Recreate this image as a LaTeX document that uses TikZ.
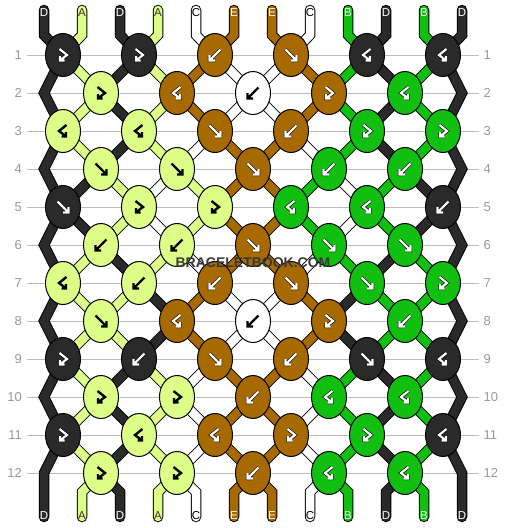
\documentclass[tikz,border=0pt]{standalone}
\usepackage{fontspec}
\setmainfont{Liberation Sans}
\usetikzlibrary{shapes.geometric}
\pgfdeclarelayer{bg}
\pgfsetlayers{bg,main}
\definecolor{colD}{HTML}{2A2A2A}
\definecolor{colA}{HTML}{DDFF88}
\definecolor{colB}{HTML}{11BF11}
\definecolor{colC}{HTML}{FFFFFF}
\definecolor{colE}{HTML}{A66A00}
\definecolor{rowgray}{HTML}{BBBBBB}
\definecolor{numgray}{HTML}{999999}
\definecolor{labdark}{HTML}{333333}
\tikzset{
    knot/.style = {ellipse, draw=black, line width=1pt, inner sep=0pt, minimum width=35pt, minimum height=43pt},
    knotD/.style = {knot, fill=colD},
    knotA/.style = {knot, fill=colA},
    knotB/.style = {knot, fill=colB},
    knotC/.style = {knot, fill=colC},
    knotE/.style = {knot, fill=colE},
    strand/.style = {draw=black, line width=1pt, double=#1, double distance=8.5pt, line cap=round, line join=miter},
    rowline/.style = {rowgray, line width=1pt},
    rownum/.style = {text=numgray, inner sep=0pt, font=\fontsize{13}{13}\selectfont},
    tag/.style = {inner sep=0pt, font=\fontsize{11.5}{11.5}\selectfont},
    watermark/.style = {inner sep=0pt, text=black!78, font=\bfseries\fontsize{14}{14}\selectfont},
    glyphw/.style = {draw=black, line width=0.6pt, double=white, double distance=2.2pt, line join=miter},
    glyphk/.style = {draw=black, line width=2.4pt, line join=miter},
    fw/.pic = {\draw[glyph#1] (-5.5,-5.5) -- (5,5) (5.5,0) -- (5.5,5.5) -- (0,5.5);},
    bw/.pic = {\draw[glyph#1] (5.5,-5.5) -- (-5,5) (-5.5,0) -- (-5.5,5.5) -- (0,5.5);},
    fb/.pic = {\draw[glyph#1] (-3.5,-6) -- (4,0) -- (-2.5,5) (-3,1) -- (-3,5.5) -- (1.5,5.5);},
    bf/.pic = {\draw[glyph#1] (3.5,-6) -- (-4,0) -- (2.5,5) (3,1) -- (3,5.5) -- (-1.5,5.5);}
}
\begin{document}
\begin{tikzpicture}[x=1pt,y=-1pt]
\useasboundingbox (0,0) rectangle (506,528);
%
% row 1
\node[knotD] at (63,55) (k1-1) {};  \pic at (k1-1) {fb=w};
\node[knotD] at (139,55) (k1-2) {}; \pic at (k1-2) {fb=w};
\node[knotE] at (215,55) (k1-3) {}; \pic at (k1-3) {bw=w};
\node[knotE] at (291,55) (k1-4) {}; \pic at (k1-4) {fw=w};
\node[knotD] at (367,55) (k1-5) {}; \pic at (k1-5) {bf=w};
\node[knotD] at (443,55) (k1-6) {}; \pic at (k1-6) {bf=w};
% row 2
\node[knotA] at (101,93) (k2-1) {}; \pic at (k2-1) {fb=k};
\node[knotE] at (177,93) (k2-2) {}; \pic at (k2-2) {bf=w};
\node[knotC] at (253,93) (k2-3) {}; \pic at (k2-3) {bw=k};
\node[knotE] at (329,93) (k2-4) {}; \pic at (k2-4) {fb=w};
\node[knotB] at (405,93) (k2-5) {}; \pic at (k2-5) {bf=w};
% row 3
\node[knotA] at (63,131) (k3-1) {};  \pic at (k3-1) {bf=k};
\node[knotA] at (139,131) (k3-2) {}; \pic at (k3-2) {bf=k};
\node[knotE] at (215,131) (k3-3) {}; \pic at (k3-3) {fw=w};
\node[knotE] at (291,131) (k3-4) {}; \pic at (k3-4) {bw=w};
\node[knotB] at (367,131) (k3-5) {}; \pic at (k3-5) {fb=w};
\node[knotB] at (443,131) (k3-6) {}; \pic at (k3-6) {fb=w};
% row 4
\node[knotA] at (101,169) (k4-1) {}; \pic at (k4-1) {fw=k};
\node[knotA] at (177,169) (k4-2) {}; \pic at (k4-2) {fw=k};
\node[knotE] at (253,169) (k4-3) {}; \pic at (k4-3) {fw=w};
\node[knotB] at (329,169) (k4-4) {}; \pic at (k4-4) {bw=w};
\node[knotB] at (405,169) (k4-5) {}; \pic at (k4-5) {bw=w};
% row 5
\node[knotD] at (63,207) (k5-1) {};  \pic at (k5-1) {fw=w};
\node[knotA] at (139,207) (k5-2) {}; \pic at (k5-2) {fb=k};
\node[knotA] at (215,207) (k5-3) {}; \pic at (k5-3) {fb=k};
\node[knotB] at (291,207) (k5-4) {}; \pic at (k5-4) {bf=w};
\node[knotB] at (367,207) (k5-5) {}; \pic at (k5-5) {bf=w};
\node[knotD] at (443,207) (k5-6) {}; \pic at (k5-6) {bw=w};
% row 6
\node[knotA] at (101,245) (k6-1) {}; \pic at (k6-1) {bw=k};
\node[knotA] at (177,245) (k6-2) {}; \pic at (k6-2) {bw=k};
\node[knotE] at (253,245) (k6-3) {}; \pic at (k6-3) {fw=w};
\node[knotB] at (329,245) (k6-4) {}; \pic at (k6-4) {fw=w};
\node[knotB] at (405,245) (k6-5) {}; \pic at (k6-5) {fw=w};
% row 7
\node[knotA] at (63,283) (k7-1) {};  \pic at (k7-1) {bf=k};
\node[knotA] at (139,283) (k7-2) {}; \pic at (k7-2) {bw=k};
\node[knotE] at (215,283) (k7-3) {}; \pic at (k7-3) {bw=w};
\node[knotE] at (291,283) (k7-4) {}; \pic at (k7-4) {fw=w};
\node[knotB] at (367,283) (k7-5) {}; \pic at (k7-5) {fw=w};
\node[knotB] at (443,283) (k7-6) {}; \pic at (k7-6) {fb=w};
% row 8
\node[knotA] at (101,321) (k8-1) {}; \pic at (k8-1) {fw=k};
\node[knotE] at (177,321) (k8-2) {}; \pic at (k8-2) {bf=w};
\node[knotC] at (253,321) (k8-3) {}; \pic at (k8-3) {bw=k};
\node[knotE] at (329,321) (k8-4) {}; \pic at (k8-4) {fb=w};
\node[knotB] at (405,321) (k8-5) {}; \pic at (k8-5) {bw=w};
% row 9
\node[knotD] at (63,359) (k9-1) {};  \pic at (k9-1) {fb=w};
\node[knotD] at (139,359) (k9-2) {}; \pic at (k9-2) {bw=w};
\node[knotE] at (215,359) (k9-3) {}; \pic at (k9-3) {fw=w};
\node[knotE] at (291,359) (k9-4) {}; \pic at (k9-4) {bw=w};
\node[knotD] at (367,359) (k9-5) {}; \pic at (k9-5) {fw=w};
\node[knotD] at (443,359) (k9-6) {}; \pic at (k9-6) {bf=w};
% row 10
\node[knotA] at (101,397) (k10-1) {}; \pic at (k10-1) {fb=k};
\node[knotA] at (177,397) (k10-2) {}; \pic at (k10-2) {fb=k};
\node[knotE] at (253,397) (k10-3) {}; \pic at (k10-3) {bw=w};
\node[knotB] at (329,397) (k10-4) {}; \pic at (k10-4) {bf=w};
\node[knotB] at (405,397) (k10-5) {}; \pic at (k10-5) {bf=w};
% row 11
\node[knotD] at (63,435) (k11-1) {};  \pic at (k11-1) {fb=w};
\node[knotA] at (139,435) (k11-2) {}; \pic at (k11-2) {bf=k};
\node[knotE] at (215,435) (k11-3) {}; \pic at (k11-3) {bf=w};
\node[knotE] at (291,435) (k11-4) {}; \pic at (k11-4) {fb=w};
\node[knotB] at (367,435) (k11-5) {}; \pic at (k11-5) {fb=w};
\node[knotD] at (443,435) (k11-6) {}; \pic at (k11-6) {bf=w};
% row 12
\node[knotA] at (101,473) (k12-1) {}; \pic at (k12-1) {fb=k};
\node[knotA] at (177,473) (k12-2) {}; \pic at (k12-2) {fb=k};
\node[knotE] at (253,473) (k12-3) {}; \pic at (k12-3) {bw=w};
\node[knotB] at (329,473) (k12-4) {}; \pic at (k12-4) {bf=w};
\node[knotB] at (405,473) (k12-5) {}; \pic at (k12-5) {bf=w};
%
% ends of the strings and turning points at the edges
\foreach \i in {1,...,12} {
  \coordinate (t\i) at (6+38*\i,10);
  \coordinate (u\i) at (6+38*\i,35);
  \coordinate (v\i) at (6+38*\i,492);
  \coordinate (w\i) at (6+38*\i,517);
}
\foreach \r in {2,4,...,12} {
  \coordinate (L\r) at (44,17+38*\r);
  \coordinate (R\r) at (462,17+38*\r);
}
%
\begin{pgfonlayer}{bg}
\fill[white] (0,0) rectangle (506,528);
\foreach \r in {1,...,12} \draw[rowline] (27,17+38*\r) -- (479,17+38*\r);
\draw[strand=colD] (t1) -- (u1) \foreach \n in {k1-1,L2,k3-1,L4,k5-1,k6-1,k7-2,k8-2,k9-2,k10-1,k11-2,k12-1} {-- (\n.center)} -- (v3) -- (w3);
\draw[strand=colA] (t2) -- (u2) \foreach \n in {k1-1,k2-1,k3-1,k4-1,k5-2,k6-1,k7-1,k8-1,k9-2,k10-2,k11-2,k12-2} {-- (\n.center)} -- (v4) -- (w4);
\draw[strand=colD] (t3) -- (u3) \foreach \n in {k1-2,k2-1,k3-2,k4-1,k5-1,L6,k7-1,L8,k9-1,L10,k11-1,L12} {-- (\n.center)} -- (v1) -- (w1);
\draw[strand=colA] (t4) -- (u4) \foreach \n in {k1-2,k2-2,k3-2,k4-2,k5-3,k6-2,k7-2,k8-1,k9-1,k10-1,k11-1,k12-1} {-- (\n.center)} -- (v2) -- (w2);
\draw[strand=colC] (t5) -- (u5) \foreach \n in {k1-3,k2-3,k3-4,k4-4,k5-5,k6-4,k7-4,k8-3,k9-3,k10-2,k11-3,k12-2} {-- (\n.center)} -- (v5) -- (w5);
\draw[strand=colE] (t6) -- (u6) \foreach \n in {k1-3,k2-2,k3-3,k4-3,k5-4,k6-3,k7-3,k8-2,k9-3,k10-3,k11-4,k12-3} {-- (\n.center)} -- (v6) -- (w6);
\draw[strand=colE] (t7) -- (u7) \foreach \n in {k1-4,k2-4,k3-4,k4-3,k5-3,k6-3,k7-4,k8-4,k9-4,k10-3,k11-3,k12-3} {-- (\n.center)} -- (v7) -- (w7);
\draw[strand=colC] (t8) -- (u8) \foreach \n in {k1-4,k2-3,k3-3,k4-2,k5-2,k6-2,k7-3,k8-3,k9-4,k10-4,k11-4,k12-4} {-- (\n.center)} -- (v8) -- (w8);
\draw[strand=colB] (t9) -- (u9) \foreach \n in {k1-5,k2-4,k3-5,k4-4,k5-4,k6-4,k7-5,k8-5,k9-6,k10-5,k11-6,k12-5} {-- (\n.center)} -- (v11) -- (w11);
\draw[strand=colD] (t10) -- (u10) \foreach \n in {k1-5,k2-5,k3-5,k4-5,k5-6,R6,k7-6,R8,k9-6,R10,k11-6,R12} {-- (\n.center)} -- (v12) -- (w12);
\draw[strand=colB] (t11) -- (u11) \foreach \n in {k1-6,k2-5,k3-6,k4-5,k5-5,k6-5,k7-6,k8-5,k9-5,k10-4,k11-5,k12-4} {-- (\n.center)} -- (v9) -- (w9);
\draw[strand=colD] (t12) -- (u12) \foreach \n in {k1-6,R2,k3-6,R4,k5-6,k6-5,k7-5,k8-4,k9-5,k10-5,k11-5,k12-5} {-- (\n.center)} -- (v10) -- (w10);
\end{pgfonlayer}
%
% string letters and row numbers
\foreach \i/\s/\c in {1/D/white,2/A/labdark,3/D/white,4/A/labdark,5/C/black,6/E/white,7/E/white,8/C/black,9/B/white,10/D/white,11/B/white,12/D/white} {
  \node[tag, text=\c] at (6+38*\i,13) (top\i) {\s};
  \node[tag, text=\c] at (6+38*\i,516) (bot\i) {\s};
}
\foreach \r in {1,...,12} {
  \node[rownum, anchor=east] at (22,17+38*\r) (nl\r) {\r};
  \node[rownum, anchor=west] at (483.5,17+38*\r) (nr\r) {\r};
}
\node[watermark] at (253,263) (wm) {BRACELETBOOK.COM};
\end{tikzpicture}
\end{document}
